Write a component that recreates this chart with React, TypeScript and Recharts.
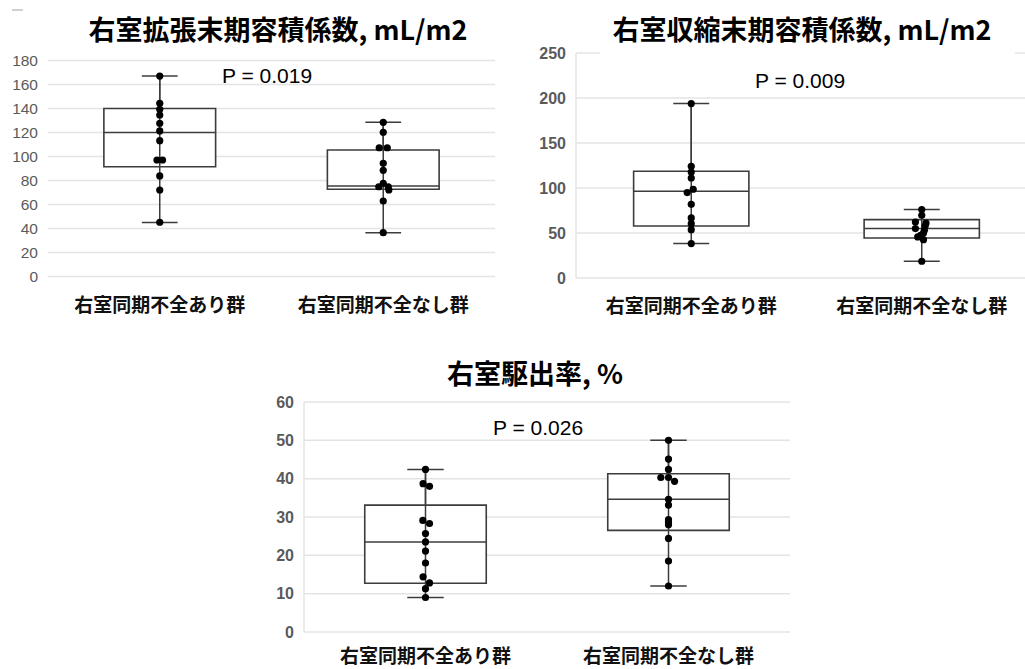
import React from 'react';
import {
  ScatterChart,
  Scatter,
  XAxis,
  YAxis,
  CartesianGrid,
  ReferenceArea,
  ReferenceLine,
} from 'recharts';

const groups = ['右室同期不全あり群', '右室同期不全なし群'];
const groupPos = [1, 3];

// 右室拡張末期容積係数 (RVEDVI)
const edviTicks = [0, 20, 40, 60, 80, 100, 120, 140, 160, 180];
// box = [min, q1, median, q3, max]
const edviBoxYes = [45, 91.5, 120, 140, 167];
const edviBoxNo = [36.5, 72.7, 75.5, 105.4, 128.5];
const edviDotsYes = [167, 144.3, 139.3, 134.6, 127.7, 121.3, 113.2, 97.1, 97.1, 83.8, 72.1, 45.2];
const edviJitterYes = [0, 0, 0, 0, 0, 0, 0, -0.025, 0.025, 0, 0, 0];
const edviDotsNo = [128.5, 120.2, 107.3, 107.3, 94.3, 88.5, 77.7, 74.8, 74.8, 72.1, 62.9, 36.5];
const edviJitterNo = [0, 0, -0.036, 0.036, 0, 0, 0, -0.04, 0.045, 0.05, 0, 0];

// 右室収縮末期容積係数 (RVESVI)
const esviTicks = [0, 50, 100, 150, 200, 250];
const esviBoxYes = [38.2, 57.8, 96.3, 118.6, 193.8];
const esviBoxNo = [18.6, 44.4, 54.9, 64.9, 76];
const esviDotsYes = [193.8, 124.1, 117.8, 111.1, 98.6, 94.9, 81.9, 66.7, 60.4, 53.7, 38.2];
const esviJitterYes = [0, 0, 0, 0, 0.017, -0.035, 0, 0, 0, 0, 0];
const esviDotsNo = [76, 69.7, 62.2, 61.1, 58, 54.9, 53, 50, 47.5, 45.6, 42.6, 18.6];
const esviJitterNo = [0, 0, -0.055, 0.037, 0.03, -0.055, 0.023, 0.015, -0.01, -0.035, 0.015, 0];

// 右室駆出率 (RVEF)
const efTicks = [0, 10, 20, 30, 40, 50, 60];
const efBoxYes = [9.0, 12.7, 23.5, 33.1, 42.4];
const efBoxNo = [12.0, 26.5, 34.6, 41.3, 50.0];
const efDotsYes = [42.4, 38.7, 38.0, 29.1, 28.3, 25.7, 23.5, 21.1, 18.0, 14.4, 12.8, 11.3, 9.0];
const efJitterYes = [0, -0.02, 0.033, -0.022, 0.033, 0, 0, 0, 0, -0.02, 0.033, 0, 0];
const efDotsNo = [50, 45.1, 42.4, 40.3, 40.3, 39.3, 34.6, 33.1, 29.3, 28.7, 28.0, 24.4, 18.5, 12.0];
const efJitterNo = [0, 0, 0, -0.063, 0, 0.05, 0, 0, 0, 0, 0, 0, 0, 0];

const BOX_STROKE = '#3c3c3c';
const GRID = '#e4e4e4';
const JP = '"Noto Sans CJK JP", "Noto Sans", sans-serif';
const LAT = '"Liberation Sans", Arial, sans-serif';

function toPoints(values: number[], jitter: number[], pos: number) {
  return values.map((v, i) => ({ x: pos + (jitter[i] || 0), y: v }));
}

const Dot = (props: any) => <circle cx={props.cx} cy={props.cy} r={3.6} fill="#000" />;

interface PanelProps {
  left: number;
  top: number;
  width: number;
  height: number;
  margin: { top: number; right: number; bottom: number; left: number };
  yWidth: number;
  ticks: number[];
  boxes: number[][];
  dots: { x: number; y: number }[][];
  capHalf: number;
  boldTicks: boolean;
  yLine: boolean;
  labelGap: number;
}

function BoxPanel(p: PanelProps) {
  const yMax = p.ticks[p.ticks.length - 1];
  return (
    <div style={{ position: 'absolute', left: p.left, top: p.top }}>
      <ScatterChart width={p.width} height={p.height} margin={p.margin}>
        <CartesianGrid vertical={false} stroke={GRID} strokeWidth={1.5} />
        <XAxis
          type="number"
          dataKey="x"
          domain={[0, 4]}
          ticks={groupPos}
          tickFormatter={(v: number) => groups[groupPos.indexOf(v)] ?? ''}
          axisLine={false}
          tickLine={false}
          tickSize={0}
          tickMargin={p.labelGap}
          height={40}
          interval={0}
          tick={{ fill: '#111', fontSize: 19, fontWeight: 700, fontFamily: JP }}
        />
        <YAxis
          type="number"
          dataKey="y"
          domain={[0, yMax]}
          ticks={p.ticks}
          width={p.yWidth}
          axisLine={p.yLine ? { stroke: GRID, strokeWidth: 1.5 } : false}
          tickLine={false}
          tickSize={0}
          tickMargin={10}
          interval={0}
          tick={{
            fill: '#5a5a5a',
            fontSize: p.boldTicks ? 16 : 15.5,
            fontWeight: p.boldTicks ? 700 : 400,
            fontFamily: LAT,
          }}
        />
        {p.boxes.map((b, i) => {
          const c = groupPos[i];
          return (
            <ReferenceLine
              key={'wl' + i}
              segment={[{ x: c, y: b[0] }, { x: c, y: b[4] }]}
              stroke={BOX_STROKE}
              strokeWidth={1.5}
              ifOverflow="visible"
            />
          );
        })}
        {p.boxes.map((b, i) => {
          const c = groupPos[i];
          return (
            <ReferenceArea
              key={'bx' + i}
              x1={c - 0.5}
              x2={c + 0.5}
              y1={b[1]}
              y2={b[3]}
              fill="#fff"
              fillOpacity={1}
              stroke={BOX_STROKE}
              strokeWidth={1.6}
              ifOverflow="visible"
            />
          );
        })}
        {p.boxes.map((b, i) => {
          const c = groupPos[i];
          return (
            <ReferenceLine
              key={'md' + i}
              segment={[{ x: c - 0.5, y: b[2] }, { x: c + 0.5, y: b[2] }]}
              stroke={BOX_STROKE}
              strokeWidth={1.5}
              ifOverflow="visible"
            />
          );
        })}
        {p.boxes.map((b, i) => {
          const c = groupPos[i];
          return (
            <ReferenceLine
              key={'cu' + i}
              segment={[{ x: c - p.capHalf, y: b[4] }, { x: c + p.capHalf, y: b[4] }]}
              stroke={BOX_STROKE}
              strokeWidth={1.5}
              ifOverflow="visible"
            />
          );
        })}
        {p.boxes.map((b, i) => {
          const c = groupPos[i];
          return (
            <ReferenceLine
              key={'cl' + i}
              segment={[{ x: c - p.capHalf, y: b[0] }, { x: c + p.capHalf, y: b[0] }]}
              stroke={BOX_STROKE}
              strokeWidth={1.5}
              ifOverflow="visible"
            />
          );
        })}
        {p.boxes.map((b, i) => {
          const c = groupPos[i];
          return (
            <ReferenceLine
              key={'wu' + i}
              segment={[{ x: c, y: b[3] }, { x: c, y: b[4] }]}
              stroke={BOX_STROKE}
              strokeWidth={1.5}
              ifOverflow="visible"
            />
          );
        })}
        {p.dots.map((d, i) => (
          <Scatter key={'s' + i} data={d} shape={Dot} isAnimationActive={false} />
        ))}
      </ScatterChart>
    </div>
  );
}

export default function App() {
  return (
    <div
      style={{
        position: 'absolute',
        left: 0,
        top: 0,
        width: 1025,
        height: 669,
        overflow: 'hidden',
        background: '#fff',
      }}
    >
      <BoxPanel
        left={0}
        top={0}
        width={500}
        height={330}
        margin={{ top: 60.5, right: 5, bottom: 13.5, left: 0 }}
        yWidth={48}
        ticks={edviTicks}
        boxes={[edviBoxYes, edviBoxNo]}
        dots={[
          toPoints(edviDotsYes, edviJitterYes, groupPos[0]),
          toPoints(edviDotsNo, edviJitterNo, groupPos[1]),
        ]}
        capHalf={0.16}
        boldTicks={false}
        yLine={false}
        labelGap={22}
      />
      <BoxPanel
        left={520}
        top={0}
        width={520}
        height={330}
        margin={{ top: 53, right: 3, bottom: 12, left: 0 }}
        yWidth={56}
        ticks={esviTicks}
        boxes={[esviBoxYes, esviBoxNo]}
        dots={[
          toPoints(esviDotsYes, esviJitterYes, groupPos[0]),
          toPoints(esviDotsNo, esviJitterNo, groupPos[1]),
        ]}
        capHalf={0.156}
        boldTicks={true}
        yLine={true}
        labelGap={22}
      />
      <BoxPanel
        left={240}
        top={360}
        width={560}
        height={320}
        margin={{ top: 42, right: 10, bottom: 8, left: 0 }}
        yWidth={64}
        ticks={efTicks}
        boxes={[efBoxYes, efBoxNo]}
        dots={[
          toPoints(efDotsYes, efJitterYes, groupPos[0]),
          toPoints(efDotsNo, efJitterNo, groupPos[1]),
        ]}
        capHalf={0.15}
        boldTicks={true}
        yLine={true}
        labelGap={18}
      />
      <svg
        width={1025}
        height={669}
        style={{ position: 'absolute', left: 0, top: 0, pointerEvents: 'none' }}
      >
        <line x1={12} y1={10} x2={23} y2={10} stroke="#d0d0d0" strokeWidth={2} />
        <text x={278} y={40} textAnchor="middle" fontSize={27} fontWeight={700} fontFamily={JP} fill="#000">
          右室拡張末期容積係数, mL/m2
        </text>
        <rect x={600} y={8} width={415} height={50} fill="#fff" />
        <text x={802} y={39.5} textAnchor="middle" fontSize={27} fontWeight={700} fontFamily={JP} fill="#000">
          右室収縮末期容積係数, mL/m2
        </text>
        <text x={535} y={384} textAnchor="middle" fontSize={27} fontWeight={700} fontFamily={JP} fill="#000">
          右室駆出率, %
        </text>
        <text x={222} y={83} fontSize={21} fontFamily={LAT} fill="#000">
          P = 0.019
        </text>
        <text x={755} y={88} fontSize={21} fontFamily={LAT} fill="#000">
          P = 0.009
        </text>
        <text x={493} y={435} fontSize={21} fontFamily={LAT} fill="#000">
          P = 0.026
        </text>
      </svg>
    </div>
  );
}
